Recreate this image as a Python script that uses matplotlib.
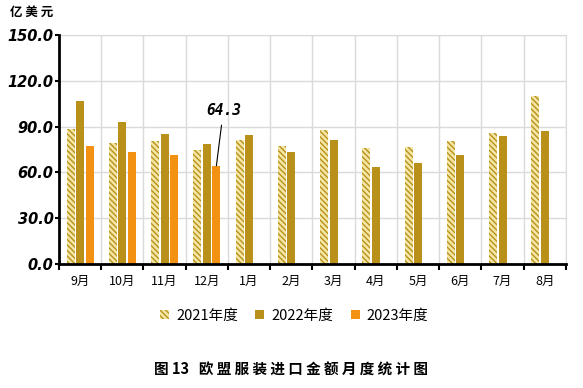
import numpy as np
import matplotlib.pyplot as plt

plt.rcParams['font.family'] = ['Noto Sans CJK SC', 'DejaVu Sans']
plt.rcParams['hatch.linewidth'] = 1.0

months = ['9月', '10月', '11月', '12月', '1月', '2月', '3月', '4月', '5月', '6月', '7月', '8月']
y2021 = [88.2, 79.4, 80.5, 74.7, 81.4, 77.3, 87.8, 76.2, 76.8, 80.5, 85.6, 110.2]
y2022 = [106.7, 93.0, 85.1, 78.4, 84.5, 73.5, 81.0, 63.7, 66.4, 71.6, 84.1, 87.1]
y2023 = [77.3, 73.5, 71.6, 64.3]
yticks = [0, 30, 60, 90, 120, 150]

gold = '#B8901A'
light = '#F4E7A6'
orange = '#F39212'

fig = plt.figure(figsize=(5.83, 3.88), dpi=100)
ax = fig.add_axes([0.1012, 0.3196, 0.8696, 0.5902])

x = np.arange(len(months))
w = 0.19
off = 0.225
ax.bar(x - off, y2021, w, facecolor=light, edgecolor=gold, hatch='\\\\\\\\\\\\',
       linewidth=0, label='2021年度', zorder=3)
ax.bar(x, y2022, w, color=gold, linewidth=0, label='2022年度', zorder=3)
ax.bar(np.arange(len(y2023)) + off, y2023, w, color=orange,
       linewidth=0, label='2023年度', zorder=3)

# 64.3 标注
ax.annotate(f'{y2023[-1]}', xy=(3 + off, y2023[-1]), xytext=(3.39, 95.5),
            ha='center', va='bottom', fontsize=10.5, fontweight='bold',
            fontstyle='italic', family='DejaVu Sans Mono',
            arrowprops=dict(arrowstyle='-', color='black', lw=0.8,
                            shrinkA=3, shrinkB=0))

ax.set_xlim(-0.5, len(months) - 0.5)
ax.set_ylim(0, 150)
ax.set_yticks(yticks)
ax.set_yticklabels([f'{v:.1f}' for v in yticks], fontsize=10.5,
                   fontweight='bold', fontstyle='italic', family='DejaVu Sans')
ax.set_xticks(x)
ax.set_xticklabels(months, fontsize=9)
ax.set_xticks(np.arange(len(months) + 1) - 0.5, minor=True)
ax.tick_params(axis='x', which='major', length=0, pad=8)
ax.tick_params(axis='x', which='minor', length=4, width=1.5, direction='out')
ax.tick_params(axis='y', length=3, width=1.5, direction='out', pad=1)

ax.grid(axis='y', color='#DADADA', lw=1, zorder=0)
ax.grid(axis='x', which='minor', color='#DADADA', lw=1, zorder=0)
for s in ['top', 'right']:
    ax.spines[s].set_color('#DADADA')
for s in ['left', 'bottom']:
    ax.spines[s].set_linewidth(2)
    ax.spines[s].set_zorder(4)

fig.text(0.017, 0.967, '亿 美 元', fontsize=9, fontweight='bold', va='center')

ax.legend(loc='center', bbox_to_anchor=(0.464, -0.227), ncol=3, frameon=False,
          fontsize=10.5, handlelength=0.6, handleheight=0.6, columnspacing=1.2,
          handletextpad=0.5)

fig.text(0.5, 0.047, '图 13   欧 盟 服 装 进 口 金 额 月 度 统 计 图', fontsize=10.5,
         fontweight='bold', ha='center', va='center')

fig.savefig('out.png', dpi=100)
